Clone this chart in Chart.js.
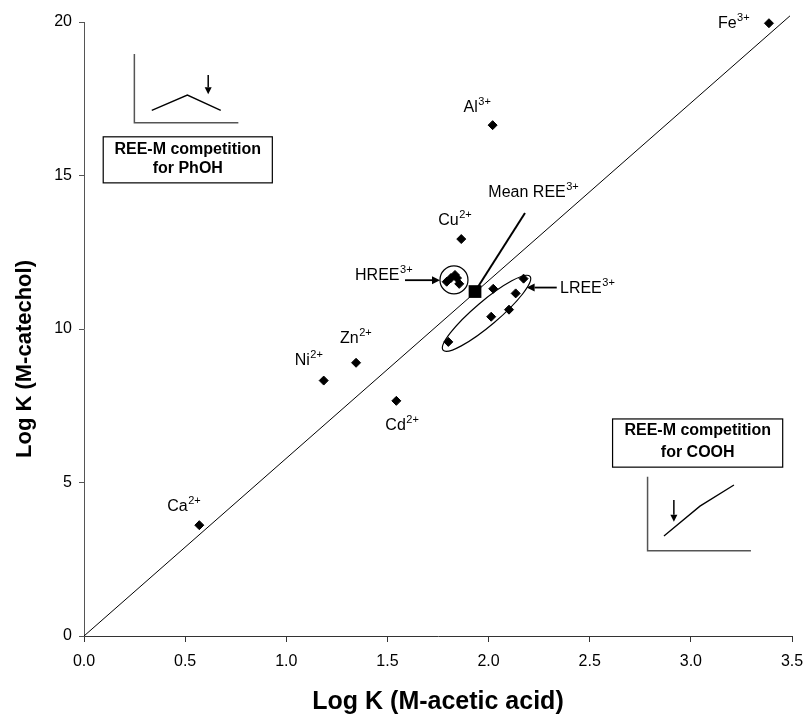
<!DOCTYPE html>
<html>
<head>
<meta charset="utf-8">
<script src="https://cdn.jsdelivr.net/npm/chart.js@4.4.1/dist/chart.umd.min.js"></script>
<style>
  html, body { margin: 0; padding: 0; background: #fff; }
</style>
</head>
<body>
<canvas id="chart" width="806" height="718"></canvas>
<script>
// Data
const ionNames = ['Ca', 'Ni', 'Zn', 'Cd', 'Cu', 'Al', 'Fe'];
const ionCharges = ['2+', '2+', '2+', '2+', '2+', '3+', '3+'];
const ionAcetic = [0.57, 1.185, 1.345, 1.544, 1.865, 2.02, 3.386];
const ionCatechol = [3.61, 8.32, 8.90, 7.66, 12.93, 16.64, 19.96];

const hreeAcetic = [1.793, 1.814, 1.834, 1.844, 1.855];
const hreeCatechol = [11.54, 11.66, 11.76, 11.66, 11.47];

const lreeAcetic = [1.801, 2.013, 2.023, 2.101, 2.134, 2.173];
const lreeCatechol = [9.58, 10.40, 11.31, 10.63, 11.16, 11.64];

const meanReeAcetic = [1.933];
const meanReeCatechol = [11.22];

// 1:1 reference line
const unityAcetic = [0, 3.49];
const unityCatechol = [0, 20.2];

const xTickValues = [0, 0.5, 1, 1.5, 2, 2.5, 3, 3.5];
const yTickValues = [0, 5, 10, 15, 20];

const FONT = "'Liberation Sans', Arial, Helvetica, sans-serif";
Chart.defaults.font.family = FONT;
Chart.defaults.color = '#000';

function toPoints(xs, ys) {
    return xs.map(function (v, i) { return { x: v, y: ys[i] }; });
}

// label offsets (px) from each ion point: [dx, dy] to left/baseline of text
const ionLabelOffsets = {
    Ca: [-32, -14], Ni: [-29, -16], Zn: [-16, -20], Cd: [-11, 29],
    Cu: [-23, -14], Al: [-29, -13], Fe: [-51, 5]
};

// annotation layout, in axis units
const notes = {
    hreeCircle: { x: 1.829, y: 11.60, r: 14 },
    lreeEllipse: { x: 1.990, y: 10.51, a: 57, b: 12, angle: -40.3 },
    meanPointer: [[1.933, 11.22], [2.180, 13.78]],
    hreeArrow: [[1.587, 11.59], [1.760, 11.59]],
    lreeArrow: [[2.337, 11.35], [2.188, 11.35]],
    hreeText: [1.340, 11.60],
    lreeText: [2.353, 11.16],
    meanText: [1.999, 14.31],
    phoh: {
        box: [0.095, 16.26, 0.931, 14.76], text: [0.513, 15.83, 15.21],
        axis: [0.249, 18.96, 16.72, 0.763],
        curve: [[0.335, 17.12], [0.511, 17.62], [0.676, 17.12]],
        arrow: [0.614, 18.27, 17.65]
    },
    cooh: {
        box: [2.613, 7.07, 3.454, 5.50], text: [3.034, 6.68, 5.98],
        axis: [2.786, 5.19, 2.78, 3.297],
        curve: [[2.867, 3.26], [3.045, 4.23], [3.213, 4.92]],
        arrow: [2.916, 4.43, 3.72]
    }
};

function drawSupLabel(ctx, base, sup, x, y) {
    ctx.save();
    ctx.fillStyle = '#000';
    ctx.textAlign = 'left';
    ctx.textBaseline = 'alphabetic';
    ctx.font = '16px ' + FONT;
    ctx.fillText(base, x, y);
    const w = ctx.measureText(base).width;
    ctx.font = '11px ' + FONT;
    ctx.fillText(sup, x + w + 0.5, y - 7);
    ctx.restore();
}

function drawArrow(ctx, x1, y1, x2, y2, head) {
    const a = Math.atan2(y2 - y1, x2 - x1);
    const bx = x2 - head * Math.cos(a), by = y2 - head * Math.sin(a);
    const hw = head * 0.5;
    ctx.beginPath();
    ctx.moveTo(x1, y1);
    ctx.lineTo(bx, by);
    ctx.stroke();
    ctx.beginPath();
    ctx.moveTo(x2, y2);
    ctx.lineTo(bx + hw * Math.sin(a), by - hw * Math.cos(a));
    ctx.lineTo(bx - hw * Math.sin(a), by + hw * Math.cos(a));
    ctx.closePath();
    ctx.fill();
}

function drawInset(ctx, px, py, inset, line1, line2) {
    const b = inset.box;
    ctx.save();
    ctx.strokeStyle = '#000';
    ctx.fillStyle = '#000';
    ctx.lineWidth = 1.2;
    ctx.strokeRect(px(b[0]), py(b[1]), px(b[2]) - px(b[0]), py(b[3]) - py(b[1]));
    ctx.font = 'bold 16px ' + FONT;
    ctx.textAlign = 'center';
    ctx.textBaseline = 'middle';
    ctx.fillText(line1, px(inset.text[0]), py(inset.text[1]));
    ctx.fillText(line2, px(inset.text[0]), py(inset.text[2]));

    // small schematic axes
    const ax = inset.axis;
    ctx.strokeStyle = '#555';
    ctx.lineWidth = 1.5;
    ctx.beginPath();
    ctx.moveTo(px(ax[0]), py(ax[1]));
    ctx.lineTo(px(ax[0]), py(ax[2]));
    ctx.lineTo(px(ax[3]), py(ax[2]));
    ctx.stroke();

    ctx.strokeStyle = '#000';
    ctx.lineWidth = 1.3;
    ctx.beginPath();
    inset.curve.forEach(function (p, i) {
        if (i === 0) ctx.moveTo(px(p[0]), py(p[1]));
        else ctx.lineTo(px(p[0]), py(p[1]));
    });
    ctx.stroke();

    const ar = inset.arrow;
    ctx.lineWidth = 1.5;
    drawArrow(ctx, px(ar[0]), py(ar[1]), px(ar[0]), py(ar[2]), 7);
    ctx.restore();
}

const annotationPlugin = {
    id: 'annotations',
    afterDatasetsDraw: function (chart) {
        const ctx = chart.ctx;
        const px = function (v) { return chart.scales.x.getPixelForValue(v); };
        const py = function (v) { return chart.scales.y.getPixelForValue(v); };

        // ion labels
        ionNames.forEach(function (name, i) {
            const off = ionLabelOffsets[name];
            drawSupLabel(ctx, name, ionCharges[i], px(ionAcetic[i]) + off[0], py(ionCatechol[i]) + off[1]);
        });

        ctx.save();
        ctx.strokeStyle = '#000';
        ctx.fillStyle = '#000';

        // circle round HREE
        ctx.lineWidth = 1.2;
        ctx.beginPath();
        ctx.arc(px(notes.hreeCircle.x), py(notes.hreeCircle.y), notes.hreeCircle.r, 0, Math.PI * 2);
        ctx.stroke();

        // ellipse round LREE
        const el = notes.lreeEllipse;
        ctx.beginPath();
        ctx.ellipse(px(el.x), py(el.y), el.a, el.b, el.angle * Math.PI / 180, 0, Math.PI * 2);
        ctx.stroke();

        // pointer to mean REE
        const mp = notes.meanPointer;
        ctx.lineWidth = 2;
        ctx.beginPath();
        ctx.moveTo(px(mp[0][0]), py(mp[0][1]));
        ctx.lineTo(px(mp[1][0]), py(mp[1][1]));
        ctx.stroke();

        // arrows
        ctx.lineWidth = 1.8;
        const ha = notes.hreeArrow, la = notes.lreeArrow;
        drawArrow(ctx, px(ha[0][0]), py(ha[0][1]), px(ha[1][0]), py(ha[1][1]), 8);
        drawArrow(ctx, px(la[0][0]), py(la[0][1]), px(la[1][0]), py(la[1][1]), 8);
        ctx.restore();

        drawSupLabel(ctx, 'HREE', '3+', px(notes.hreeText[0]), py(notes.hreeText[1]));
        drawSupLabel(ctx, 'LREE', '3+', px(notes.lreeText[0]), py(notes.lreeText[1]));
        drawSupLabel(ctx, 'Mean REE', '3+', px(notes.meanText[0]), py(notes.meanText[1]));

        drawInset(ctx, px, py, notes.phoh, 'REE-M competition', 'for PhOH');
        drawInset(ctx, px, py, notes.cooh, 'REE-M competition', 'for COOH');
    },
    afterDraw: function (chart) {
        // y axis title, drawn by hand so it can sit a bit below centre
        const ctx = chart.ctx;
        ctx.save();
        ctx.translate(25, 359);
        ctx.rotate(-Math.PI / 2);
        ctx.font = 'bold 22px ' + FONT;
        ctx.fillStyle = '#000';
        ctx.textAlign = 'center';
        ctx.textBaseline = 'middle';
        ctx.fillText('Log K (M-catechol)', 0, 0);
        ctx.restore();
    }
};

const markerStyle = {
    pointStyle: 'rectRot',
    pointRadius: 4.5,
    pointBackgroundColor: '#000',
    pointBorderColor: '#000',
    pointBorderWidth: 1,
    showLine: false,
    clip: false
};

new Chart(document.getElementById('chart'), {
    type: 'scatter',
    data: {
        datasets: [
            Object.assign({ label: 'Metals', data: toPoints(ionAcetic, ionCatechol) }, markerStyle),
            Object.assign({ label: 'HREE', data: toPoints(hreeAcetic, hreeCatechol) }, markerStyle),
            Object.assign({ label: 'LREE', data: toPoints(lreeAcetic, lreeCatechol) }, markerStyle),
            {
                label: 'Mean REE',
                data: toPoints(meanReeAcetic, meanReeCatechol),
                pointStyle: 'rect',
                pointRadius: 9,
                pointBackgroundColor: '#000',
                pointBorderColor: '#000',
                pointBorderWidth: 0
            },
            {
                label: '1:1',
                data: toPoints(unityAcetic, unityCatechol),
                showLine: true,
                borderColor: '#000',
                borderWidth: 1,
                pointRadius: 0,
                clip: false
            }
        ]
    },
    options: {
        responsive: false,
        animation: false,
        layout: { padding: { top: 22, right: 14, left: 0, bottom: 0 } },
        plugins: {
            legend: { display: false },
            tooltip: { enabled: false }
        },
        scales: {
            x: {
                type: 'linear',
                min: 0,
                max: 3.5,
                afterBuildTicks: function (s) { s.ticks = xTickValues.map(function (v) { return { value: v }; }); },
                afterFit: function (s) { s.height = 82; s.paddingLeft = 0; s.paddingRight = 0; },
                ticks: {
                    font: { size: 16 },
                    color: '#000',
                    padding: 10,
                    maxRotation: 0,
                    callback: function (v) { return Number(v).toFixed(1); }
                },
                grid: { drawOnChartArea: false, drawTicks: true, tickLength: 6, color: '#333' },
                border: { color: '#333', width: 1 },
                title: {
                    display: true,
                    text: 'Log K (M-acetic acid)',
                    font: { size: 25, weight: 'bold' },
                    color: '#000',
                    padding: { top: 0, bottom: 1 }
                }
            },
            y: {
                type: 'linear',
                min: 0,
                max: 20,
                afterBuildTicks: function (s) { s.ticks = yTickValues.map(function (v) { return { value: v }; }); },
                afterFit: function (s) { s.width = 84; s.paddingTop = 0; s.paddingBottom = 0; },
                ticks: {
                    font: { size: 16 },
                    color: '#000',
                    padding: 7
                },
                grid: { drawOnChartArea: false, drawTicks: true, tickLength: 5, color: '#555' },
                border: { color: '#555', width: 1 }
            }
        }
    },
    plugins: [annotationPlugin]
});
</script>
</body>
</html>
